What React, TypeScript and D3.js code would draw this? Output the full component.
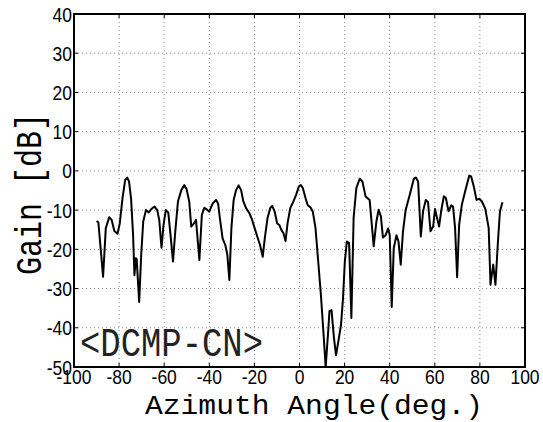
import React from "react";
import * as d3 from "d3";

const angles = [
  -90, -89.2, -87.1, -85.9, -84.4, -83.3, -82.1, -80.7, -79.7, -78.5, -77.3, -76.4, -75.6, -74.7,
  -73.8, -73.2, -72.6, -72.2, -71.1, -70.2, -69.3, -68.1, -66.9, -65.8, -64.3, -63.1, -62.2, -61.2,
  -60.3, -59.3, -58.2, -57.2, -56.1, -55.1, -53.9, -52.4, -51.1, -50.1, -48.9, -48, -46.8, -45.9,
  -44.4, -43.3, -42.2, -41.2, -40, -38.5, -37, -36.1, -35.3, -34.1, -32.9, -32, -31.1, -30.2,
  -29.2, -28.1, -27, -25.9, -24.9, -23.7, -22.2, -21, -19.9, -18.7, -17.5, -16.3, -15.4, -14.2,
  -13, -12.1, -11, -9.9, -8.9, -8, -7.1, -6.2, -5.3, -4.1, -2.7, -1.5, -0.3, 0.6, 1.5, 2.7, 3.6,
  5, 5.9, 7.1, 8.3, 9.5, 10.7, 11.6, 12.6, 13.3, 14.2, 15.3, 16.2, 17.2, 18.4, 19.3, 20.1, 21, 22,
  23, 24, 25.2, 26.7, 27.9, 29.3, 31.1, 32.9, 34.1, 35.1, 36.1, 37, 38.2, 39.3, 40, 40.9, 41.8, 43,
  43.9, 44.9, 45.9, 47.1, 48.9, 50.7, 51.6, 52.6, 53.8, 54.8, 56, 57, 58.1, 59.3, 60.1, 61, 61.9,
  62.8, 64, 64.9, 66.1, 67.3, 68.1, 69, 69.9, 70.8, 72, 73.8, 75.3, 76.1, 77.3, 78.5, 79.7, 80.9,
  82.4, 83.9, 84.7, 85.9, 86.9, 88, 88.9, 90,
];

const gains = [
  -12.8, -13.1, -27, -14.6, -11.8, -12.5, -15.3, -16, -13.4, -7, -2.3, -1.7, -2.7, -7,
  -16.3, -26.6, -22.3, -22.5, -33.4, -21.4, -12.9, -10, -10.6, -9.8, -9.1, -10, -12.5, -19.6,
  -13.8, -10, -10.6, -16.3, -23.1, -15.5, -7.8, -4.9, -3.6, -4.6, -7.8, -14.2, -13.4, -12.5,
  -22.7, -11.2, -9.4, -9.8, -10.4, -8.3, -7.4, -8.3, -12.1, -17.2, -18.9, -21.4, -27.8, -14.6,
  -7.4, -4.9, -3.7, -4.9, -7.8, -9.5, -10.8, -12.5, -14.6, -16.8, -18.9, -21.9, -17.2, -12.1,
  -9.5, -8.9, -10.4, -13.4, -13.8, -15.1, -15.9, -17.9, -13.4, -9.5, -7.8, -6.1, -4, -3.6, -4.4, -7, -8.7,
  -9.4, -10.4, -14.6, -23.1, -31.7, -41.9, -50, -41.9, -35.7, -35.5, -42.7, -47, -43.6, -39.3, -32.5, -23.1, -18, -18.4,
  -37.5, -12, -4.4, -2, -2.7, -6.5, -7.4, -19.2, -12.9, -9.9, -11.6, -17, -16.4, -14.7, -16.3, -34.7, -19.7, -16.4,
  -18, -23.9, -15.4, -9.9, -6.1, -2, -1.7, -2.7, -16.7, -10.3, -7.4, -8, -15.4, -14.1, -9.7, -12, -14.2,
  -10.3, -6.5, -6.9, -10.3, -8.8, -9.1, -14.6, -27.1, -13.7, -8.6, -4.4, -1.2, -1.4, -4, -7.4, -7.1, -7.8,
  -9.7, -14.6, -29, -23.9, -29, -18, -10.3, -8,
];

const xTicks = [-100, -80, -60, -40, -20, 0, 20, 40, 60, 80, 100];
const yTicks = [-50, -40, -30, -20, -10, 0, 10, 20, 30, 40];

const W = 543;
const H = 422;
const left = 74;
const right = 525;
const top = 14;
const bottom = 367;

export default function App() {
  const x = d3.scaleLinear().domain([-100, 100]).range([left, right]);
  const y = d3.scaleLinear().domain([-50, 40]).range([bottom, top]);
  const data = angles.map((a, i) => [a, gains[i]] as [number, number]);
  const line = d3
    .line<[number, number]>()
    .x((d) => x(d[0]))
    .y((d) => y(d[1]));

  const tickFont = "'Liberation Sans', Arial, sans-serif";
  const monoFont = "'Liberation Mono', 'DejaVu Sans Mono', monospace";

  return (
    <svg
      width={W}
      height={H}
      style={{ position: "absolute", left: 0, top: 0, background: "#fff" }}
    >
      <defs>
        <clipPath id="plotClip">
          <rect x={left} y={top} width={right - left} height={bottom - top} />
        </clipPath>
      </defs>
      <rect x={0} y={0} width={W} height={H} fill="#fff" />
      {/* grid */}
      {xTicks.slice(1, -1).map((t) => (
        <line
          key={"gx" + t}
          x1={x(t)}
          x2={x(t)}
          y1={top}
          y2={bottom}
          stroke="#8a8a8a"
          strokeWidth={1}
          strokeDasharray="1,3"
        />
      ))}
      {yTicks.slice(1, -1).map((t) => (
        <line
          key={"gy" + t}
          x1={left}
          x2={right}
          y1={y(t)}
          y2={y(t)}
          stroke="#8a8a8a"
          strokeWidth={1}
          strokeDasharray="1,3"
        />
      ))}
      {/* ticks */}
      {xTicks.map((t) => (
        <g key={"tx" + t}>
          <line x1={x(t)} x2={x(t)} y1={bottom} y2={bottom - 4} stroke="#000" strokeWidth={1} />
          <line x1={x(t)} x2={x(t)} y1={top} y2={top + 4} stroke="#000" strokeWidth={1} />
        </g>
      ))}
      {yTicks.map((t) => (
        <g key={"ty" + t}>
          <line x1={left} x2={left + 4} y1={y(t)} y2={y(t)} stroke="#000" strokeWidth={1} />
          <line x1={right} x2={right - 4} y1={y(t)} y2={y(t)} stroke="#000" strokeWidth={1} />
        </g>
      ))}
      {/* data line */}
      <path
        d={line(data) || ""}
        fill="none"
        stroke="#000"
        strokeWidth={2}
        strokeLinejoin="round"
        clipPath="url(#plotClip)"
      />
      {/* axes box */}
      <rect
        x={left}
        y={top}
        width={right - left}
        height={bottom - top}
        fill="none"
        stroke="#000"
        strokeWidth={2}
      />
      {/* y tick labels */}
      {yTicks.map((t) => (
        <text
          key={"ly" + t}
          transform={`translate(${left - 2},${y(t) + 7.5}) scale(1,1.2)`}
          textAnchor="end"
          fontFamily={tickFont}
          fontSize={17.5}
          fill="#000"
        >
          {t}
        </text>
      ))}
      {/* x tick labels */}
      {xTicks.map((t) => (
        <text
          key={"lx" + t}
          transform={`translate(${x(t)},${384}) scale(1,1.2)`}
          textAnchor="middle"
          fontFamily={tickFont}
          fontSize={17.5}
          fill="#000"
        >
          {t}
        </text>
      ))}
      {/* axis labels */}
      <text
        x={145}
        y={414}
        fontFamily={monoFont}
        fontSize={28}
        textLength={338}
        lengthAdjust="spacingAndGlyphs"
        fill="#000"
      >
        Azimuth Angle(deg.)
      </text>
      <text
        transform={`translate(41,275) rotate(-90) scale(1,1.25)`}
        x={0}
        y={0}
        fontFamily={monoFont}
        fontSize={30}
        textLength={162}
        lengthAdjust="spacingAndGlyphs"
        fill="#000"
      >
        Gain [dB]
      </text>
      <text
        transform={`translate(80,356) scale(1,1.22)`}
        fontFamily={monoFont}
        fontSize={33}
        textLength={183}
        lengthAdjust="spacingAndGlyphs"
        fill="#222"
      >
        {"<DCMP-CN>"}
      </text>
    </svg>
  );
}
